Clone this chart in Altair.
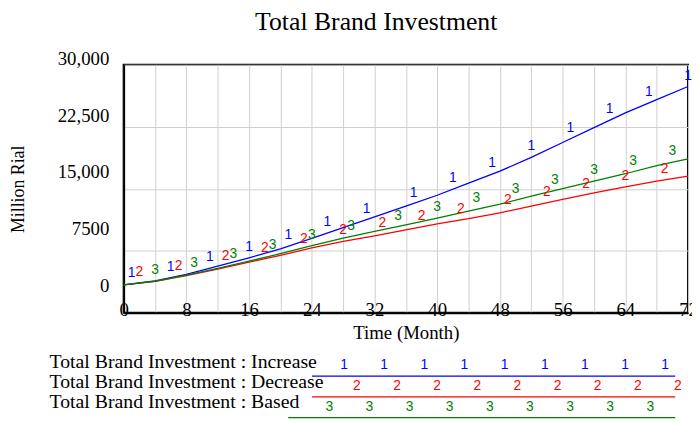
import altair as alt
import numpy as np
import pandas as pd

# ---------------- data ----------------
months = [0, 4, 8, 12, 16, 20, 24, 28, 32, 36, 40, 44, 48, 52, 56, 60, 64, 68, 72]
increase = [3380, 3860, 4660, 5650, 6660, 7730, 9000, 10300, 11600, 12900, 14220,
            15690, 17130, 18800, 20600, 22390, 24180, 25780, 27370]
decrease = [3380, 3800, 4500, 5300, 6130, 6950, 7850, 8640, 9320, 10040, 10760,
            11380, 12100, 12900, 13710, 14500, 15220, 15940, 16530]
based = [3380, 3820, 4550, 5380, 6250, 7150, 8130, 9040, 9840, 10640, 11440,
         12300, 13150, 14100, 15020, 15940, 16820, 17810, 18610]

series_names = ["Increase", "Decrease", "Based"]
series_colors = ["#0000ff", "#ff0000", "#008000"]
series_digits = ["1", "2", "3"]
legend_labels = ["Total Brand Investment : Increase",
                 "Total Brand Investment : Decrease",
                 "Total Brand Investment : Based"]
marker_months_increase = [1, 6, 11, 16, 21, 26, 31, 37, 42, 47, 52, 57, 62, 67, 72]
marker_months_decrease = [2, 7, 13, 18, 23, 28, 33, 38, 43, 49, 54, 59, 64, 69]
marker_months_based = [4, 9, 14, 19, 24, 29, 35, 40, 45, 50, 55, 60, 65, 70]

y_ticks = [0, 7500, 15000, 22500, 30000]
x_grid = list(range(0, 73, 4))

# ---------------- layout constants (pixels, relative to plot origin) ----------------
PLOT_W, PLOT_H = 571, 251
LEG_TEXT_X = -75
LEG_TEXT_Y0, LEG_TEXT_DY = 301, 20
LEG_LINE_Y0, LEG_LINE_DY = 315, 21
LEG_LINE_END = 558
LEG_CHAR_W = 8.05
LEG_MARK_X0 = [223, 236, 208]
LEG_MARK_STEP = 40.6
LEG_MARK_Y0 = 304
LEG_MARK_N = 9

SERIF = "Liberation Serif"
SANS = "Liberation Sans"

# ---------------- tables ----------------
values = [increase, decrease, based]
marker_months = [marker_months_increase, marker_months_decrease, marker_months_based]
rows, mrows, lrows, lmrows = [], [], [], []
for i, name in enumerate(series_names):
    for t, v in zip(months, values[i]):
        rows.append({"t": t, "v": v, "series": name})
    for t in marker_months[i]:
        mrows.append({"t": t, "v": float(np.interp(t, months, values[i])),
                      "series": name, "digit": series_digits[i]})
    lrows.append({"idx": i, "label": legend_labels[i], "series": name})
    for k in range(LEG_MARK_N):
        lmrows.append({"idx": i, "k": k, "series": name, "digit": series_digits[i]})

df = pd.DataFrame(rows)
dfm = pd.DataFrame(mrows)
dfl = pd.DataFrame(lrows)
dflm = pd.DataFrame(lmrows)

color = alt.Color("series:N", scale=alt.Scale(domain=series_names, range=series_colors),
                  legend=None)

xscale = alt.Scale(domain=[0, 72], nice=False, zero=False)
yscale = alt.Scale(domain=[0, 30000], nice=False)

x_axis = alt.Axis(values=x_grid, labelExpr="datum.value % 8 == 0 ? datum.value : ''",
                  title="Time (Month)", grid=True, gridColor="#cfcfcf", gridWidth=1,
                  ticks=False, tickSize=0, domainColor="black", domainWidth=2,
                  labelFont=SERIF, labelFontSize=19, labelColor="black",
                  labelBaseline="alphabetic", labelPadding=3, labelFlush=False,
                  labelOverlap=False, titleFont=SERIF, titleFontSize=19,
                  titleFontWeight="normal", titleColor="black", titlePadding=4)
y_axis = alt.Axis(values=y_ticks,
                  labelExpr="datum.value < 10000 ? format(datum.value, 'd') : format(datum.value, ',')",
                  title="Million Rial", grid=True, gridColor="#cfcfcf", gridWidth=1,
                  ticks=False, tickSize=0, domainColor="black", domainWidth=2,
                  labelFont=SERIF, labelFontSize=19, labelColor="black",
                  labelPadding=15, labelBaseline="middle",
                  labelOffset=alt.ExprRef(expr="-28 + datum.value / 30000 * 22"),
                  labelOverlap=False, titleFont=SERIF, titleFontSize=18,
                  titleFontWeight="normal", titleColor="black", titlePadding=30)

X = alt.X("t:Q", scale=xscale, axis=x_axis)
Y = alt.Y("v:Q", scale=yscale, axis=y_axis)

lines = alt.Chart(df).mark_line(strokeWidth=1.3).encode(x=X, y=Y, color=color)
markers = alt.Chart(dfm).mark_text(font=SANS, fontSize=14, baseline="middle", dy=-11).encode(
    x=X, y=Y, color=color, text="digit:N",
)
main = alt.layer(lines, markers)

leg_text = alt.Chart(dfl).transform_calculate(
    px=f"{LEG_TEXT_X}", py=f"{LEG_TEXT_Y0} + {LEG_TEXT_DY} * datum.idx"
).mark_text(font=SERIF, fontSize=20, align="left", baseline="middle", color="black").encode(
    x=alt.X("px:Q", scale=None, axis=None),
    y=alt.Y("py:Q", scale=None, axis=None),
    text="label:N",
)
leg_line = alt.Chart(dfl).transform_calculate(
    px=f"{LEG_TEXT_X} + {LEG_CHAR_W} * length(datum.label)",
    px2=f"{LEG_LINE_END}",
    py=f"{LEG_LINE_Y0} + {LEG_LINE_DY} * datum.idx",
).mark_rule(strokeWidth=1.3).encode(
    x=alt.X("px:Q", scale=None, axis=None),
    x2="px2:Q",
    y=alt.Y("py:Q", scale=None, axis=None),
    color=color,
)
leg_marks = alt.Chart(dflm).transform_calculate(
    px=f"[{','.join(str(v) for v in LEG_MARK_X0)}][datum.idx] + {LEG_MARK_STEP} * datum.k",
    py=f"{LEG_MARK_Y0} + {LEG_LINE_DY} * datum.idx",
).mark_text(font=SANS, fontSize=14, baseline="middle").encode(
    x=alt.X("px:Q", scale=None, axis=None),
    y=alt.Y("py:Q", scale=None, axis=None),
    color=color,
    text="digit:N",
)
legend = alt.layer(leg_line, leg_text, leg_marks)

chart = alt.layer(main, legend).resolve_scale(x="independent", y="independent").properties(
    width=PLOT_W, height=PLOT_H,
    autosize=alt.AutoSizeParams(type="none"),
    padding={"left": 117, "top": 55, "right": 4, "bottom": 107},
    title=alt.Title("Total Brand Investment", font=SERIF, fontSize=26, fontWeight="normal",
                    color="black", anchor="middle", frame="group", dx=-30, dy=26,
                    offset=20, baseline="alphabetic"),
).configure_view(stroke="black", strokeWidth=2)

chart.save("out.html", embed_options={"renderer": "svg", "actions": False})
